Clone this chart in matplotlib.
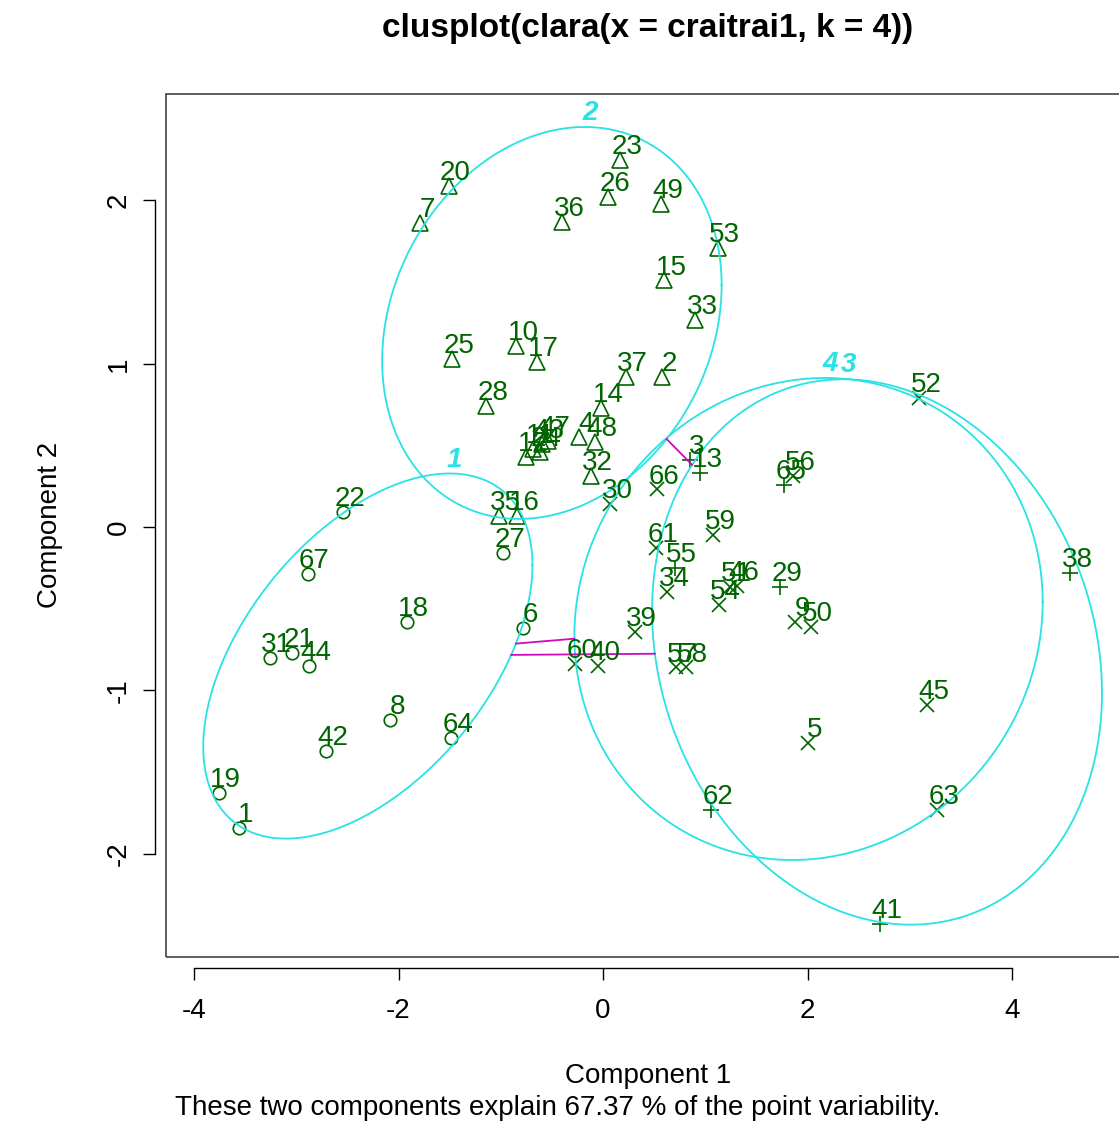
import numpy as np
import matplotlib.pyplot as plt
from matplotlib.patches import Rectangle

plt.rcParams['font.family'] = ['Liberation Sans', 'DejaVu Sans']
plt.rcParams['axes.unicode_minus'] = False

# point labels, first two principal components and cluster of each point
point_labels = [1, 6, 8, 18, 19, 21, 22, 27, 31, 42, 44, 64, 67,
                2, 4, 7, 10, 11, 12, 14, 15, 16, 17, 20, 23, 24, 25, 26, 28,
                32, 33, 35, 36, 37, 43, 47, 48, 49, 53,
                3, 13, 29, 38, 41, 55, 62, 65,
                5, 9, 30, 34, 39, 40, 45, 46, 50, 51, 52, 54, 56, 57, 58,
                59, 60, 61, 63, 66]
comp1 = [-3.56, -0.78, -2.08, -1.92, -3.76, -3.04, -2.54, -0.98, -3.26, -2.71, -2.88, -1.49, -2.89,
         0.58, -0.23, -1.79, -0.85, -0.68, -0.75, -0.02, 0.60, -0.84, -0.65, -1.51, 0.17, -0.62, -1.48, 0.05, -1.14,
         -0.12, 0.90, -1.02, -0.40, 0.22, -0.60, -0.54, -0.08, 0.57, 1.12,
         0.85, 0.95, 1.73, 4.57, 2.71, 0.70, 1.06, 1.77,
         2.00, 1.88, 0.07, 0.63, 0.31, -0.05, 3.17, 1.31, 2.03, 1.24, 3.09, 1.13, 1.86, 0.71, 0.81,
         1.08, -0.27, 0.52, 3.27, 0.53]
comp2 = [-1.84, -0.62, -1.18, -0.58, -1.63, -0.77, 0.09, -0.16, -0.80, -1.37, -0.85, -1.29, -0.29,
         0.92, 0.55, 1.86, 1.11, 0.48, 0.43, 0.73, 1.51, 0.07, 1.01, 2.09, 2.25, 0.46, 1.03, 2.02, 0.74,
         0.31, 1.27, 0.07, 1.87, 0.92, 0.51, 0.53, 0.52, 1.98, 1.71,
         0.41, 0.33, -0.37, -0.28, -2.43, -0.25, -1.73, 0.26,
         -1.32, -0.58, 0.14, -0.40, -0.64, -0.85, -1.09, -0.36, -0.61, -0.37, 0.79, -0.48, 0.31, -0.86, -0.86,
         -0.05, -0.84, -0.13, -1.73, 0.23]
cluster = [1] * 13 + [2] * 26 + [3] * 8 + [4] * 20

# spanning ellipses of the clusters: centre, spread along each axis, correlation
ell_cx = [-2.30, -0.50, 2.68, 2.01]
ell_cy = [-0.79, 1.25, -0.765, -0.563]
ell_sx = [1.61, 1.66, 2.20, 2.29]
ell_sy = [1.118, 1.20, 1.67, 1.476]
ell_r = [0.497, 0.193, -0.15, 0.07]

title = "clusplot(clara(x = craitrai1, k = 4))"
subtitle = "These two components explain 67.37 % of the point variability."

W, H = 1119, 1127
fig = plt.figure(figsize=(W / 100, H / 100), dpi=100)
ax = fig.add_axes([166 / W, 1 - 957 / H, (1130 - 166) / W, (957 - 94) / H])
ax.set_xlim(-4.274, 5.154)
ax.set_ylim(-2.633, 2.652)

green = '#006400'
cyan = '#28E2E5'
magenta = '#CD0BBC'
markers = {1: 'o', 2: '^', 3: '+', 4: 'x'}
msize = {1: 9, 2: 11, 3: 12, 4: 10}

x = np.array(comp1)
y = np.array(comp2)
cl = np.array(cluster)
for k in markers:
    m = cl == k
    ax.plot(x[m], y[m], linestyle='none', marker=markers[k], ms=msize[k],
            mfc='none', mec=green, mew=1.2)
for lab, px, py in zip(point_labels, comp1, comp2):
    ax.annotate(str(lab), (px, py), xytext=(5, 4.3), textcoords='offset points',
                ha='center', va='baseline', fontsize=20, color=green)

# ellipses
covs = []
t = np.linspace(0, 2 * np.pi, 400)
for i in range(4):
    sxy = ell_r[i] * ell_sx[i] * ell_sy[i]
    S = np.array([[ell_sx[i] ** 2, sxy], [sxy, ell_sy[i] ** 2]])
    covs.append(S)
    L = np.linalg.cholesky(S)
    pts = L @ np.vstack([np.cos(t), np.sin(t)])
    ax.plot(ell_cx[i] + pts[0], ell_cy[i] + pts[1], color=cyan, lw=1.3)
    topx = ell_cx[i] + sxy / ell_sy[i]
    topy = ell_cy[i] + ell_sy[i]
    ax.annotate(str(i + 1), (topx, topy), xytext=(3.6, 5), textcoords='offset points',
                ha='center', va='baseline', fontsize=20, color=cyan,
                fontweight='bold', fontstyle='italic')

# segments between disjoint ellipses along the line joining the centres
for i in range(4):
    for j in range(i + 1, 4):
        ci = np.array([ell_cx[i], ell_cy[i]])
        cj = np.array([ell_cx[j], ell_cy[j]])
        d = cj - ci
        ti = 1 / np.sqrt(d @ np.linalg.solve(covs[i], d))
        tj = 1 / np.sqrt(d @ np.linalg.solve(covs[j], d))
        if ti + tj < 1:
            p1 = ci + ti * d
            p2 = cj - tj * d
            ax.plot([p1[0], p2[0]], [p1[1], p2[1]], color=magenta, lw=1.3)

# R style frame and detached axes
ax.add_patch(Rectangle((0, 0), 1, 1, transform=ax.transAxes, fill=False,
                       lw=1.1, edgecolor='#333333', clip_on=False))
for s in ['top', 'right']:
    ax.spines[s].set_visible(False)
for s in ['bottom', 'left']:
    ax.spines[s].set_position(('outward', 8))
    ax.spines[s].set_linewidth(1.0)
ax.spines['bottom'].set_bounds(-4, 4)
ax.spines['left'].set_bounds(-2, 2)
ax.set_xticks([-4, -2, 0, 2, 4])
ax.set_yticks([-2, -1, 0, 1, 2])
ax.tick_params(direction='out', length=8.6, width=1.0, labelsize=20)
ax.tick_params(axis='x', pad=13)
ax.tick_params(axis='y', labelrotation=90, pad=8)
for lbl in ax.get_yticklabels():
    lbl.set_va('center')

fig.text(648 / W, 1 - 28 / H, title, ha='center', va='center', fontsize=24, fontweight='bold')
fig.text(648 / W, 1 - 1076 / H, 'Component 1', ha='center', va='center', fontsize=20)
fig.text(50 / W, 1 - 525 / H, 'Component 2', ha='center', va='center', fontsize=20, rotation=90)
fig.text(558 / W, 1 - 1108 / H, subtitle, ha='center', va='center', fontsize=20)

fig.savefig('out.png', dpi=100)
